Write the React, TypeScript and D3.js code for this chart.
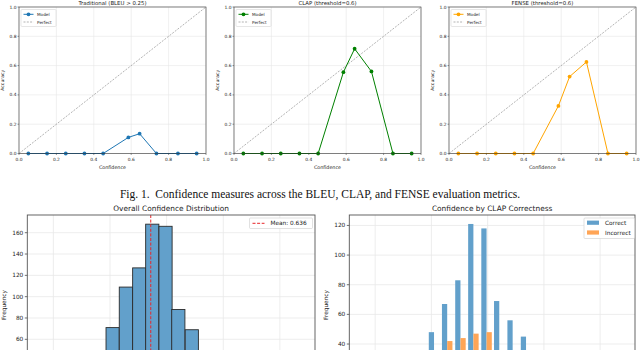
import React, { useEffect, useRef } from 'react';
import * as d3 from 'd3';

// calibration curves (bin mean confidence vs accuracy)
const binConfidence = [0.05, 0.15, 0.25, 0.35, 0.45, 0.585, 0.645, 0.735, 0.85, 0.95];
const bleuAccuracy = [0, 0, 0, 0, 0, 0.11, 0.135, 0, 0, 0];
const clapAccuracy = [0, 0, 0, 0, 0, 0.555, 0.715, 0.56, 0, 0];
const fenseAccuracy = [0, 0, 0, 0, 0, 0.325, 0.525, 0.625, 0, 0];
const calibTitles = ['Traditional (BLEU > 0.25)', 'CLAP (threshold=0.6)', 'FENSE (threshold=0.6)'];
const calibColors = ['#1f77b4', 'green', 'orange'];
const axisTicks = [0, 0.2, 0.4, 0.6, 0.8, 1.0];

// histograms (bin left edges, visible part only)
const histBinStart = [0.5965, 0.6082, 0.62, 0.6315, 0.6432, 0.6545, 0.6664, 0.6783];
const histBinWidth = 0.01165;
const totalCounts = [71, 109, 127, 168, 166, 88, 69, 48];
const correctCounts = [48, 67, 83, 121, 118, 69, 56, 45];
const incorrectCounts = [23, 42, 44, 47, 48, 19, 13, 3];
const meanConfidence = 0.636;
const histXTicks = [0.55, 0.6, 0.65, 0.7, 0.75];
const leftYTicks = [60, 80, 100, 120, 140, 160];
const rightYTicks = [40, 60, 80, 100, 120];

const caption = 'Fig. 1.  Confidence measures across the BLEU, CLAP, and FENSE evaluation metrics.';

const FONT = 'DejaVu Sans, sans-serif';

export default function App() {
  const ref = useRef<SVGSVGElement>(null);

  useEffect(() => {
    const svg = d3.select(ref.current);
    svg.selectAll('*').remove();

    // ---------- top row: three calibration plots ----------
    const lefts = [19, 234, 449];
    const series = [bleuAccuracy, clapAccuracy, fenseAccuracy];
    lefts.forEach((left, i) => {
      const x = d3.scaleLinear().domain([0, 1]).range([left, left + 187]);
      const y = d3.scaleLinear().domain([0, 1]).range([153.5, 7]);
      const g = svg.append('g');

      // grid
      g.selectAll('.vg').data(axisTicks).join('line')
        .attr('x1', d => x(d)).attr('x2', d => x(d)).attr('y1', y(0)).attr('y2', y(1))
        .attr('stroke', '#e6e6e6').attr('stroke-width', 0.6);
      g.selectAll('.hg').data(axisTicks).join('line')
        .attr('x1', x(0)).attr('x2', x(1)).attr('y1', d => y(d)).attr('y2', d => y(d))
        .attr('stroke', '#e6e6e6').attr('stroke-width', 0.6);

      // perfect calibration
      g.append('line')
        .attr('x1', x(0)).attr('y1', y(0)).attr('x2', x(1)).attr('y2', y(1))
        .attr('stroke', '#808080').attr('stroke-width', 0.6).attr('stroke-dasharray', '2,1.3');

      // model curve
      const pts = binConfidence.map((c, k) => [c, series[i][k]] as [number, number]);
      const line = d3.line<[number, number]>().x(d => x(d[0])).y(d => y(d[1]));
      g.append('path').datum(pts)
        .attr('fill', 'none').attr('stroke', calibColors[i]).attr('stroke-width', 1)
        .attr('d', line);
      g.selectAll('.pt').data(pts).join('circle')
        .attr('cx', d => x(d[0])).attr('cy', d => y(d[1])).attr('r', 1.9)
        .attr('fill', calibColors[i]);

      // frame
      g.append('rect')
        .attr('x', x(0)).attr('y', y(1)).attr('width', x(1) - x(0)).attr('height', y(0) - y(1))
        .attr('fill', 'none').attr('stroke', '#333').attr('stroke-width', 0.6);

      // ticks
      axisTicks.forEach(t => {
        g.append('line').attr('x1', x(t)).attr('x2', x(t)).attr('y1', y(0)).attr('y2', y(0) + 1.5)
          .attr('stroke', '#333').attr('stroke-width', 0.5);
        g.append('text').attr('x', x(t)).attr('y', 160.5).attr('text-anchor', 'middle')
          .attr('font-family', FONT).attr('font-size', 4.4).attr('fill', '#222').text(t.toFixed(1));
        g.append('line').attr('x1', x(0) - 1.5).attr('x2', x(0)).attr('y1', y(t)).attr('y2', y(t))
          .attr('stroke', '#333').attr('stroke-width', 0.5);
        g.append('text').attr('x', x(0) - 2.5).attr('y', y(t) + 1.5).attr('text-anchor', 'end')
          .attr('font-family', FONT).attr('font-size', 4.4).attr('fill', '#222').text(t.toFixed(1));
      });

      g.append('text').attr('x', (x(0) + x(1)) / 2).attr('y', 168.5).attr('text-anchor', 'middle')
        .attr('font-family', FONT).attr('font-size', 4.8).attr('fill', '#222').text('Confidence');
      g.append('text').attr('transform', `translate(${left - 15},${y(0.5)}) rotate(-90)`)
        .attr('text-anchor', 'middle').attr('font-family', FONT).attr('font-size', 4.6)
        .attr('fill', '#222').text('Accuracy');
      g.append('text').attr('x', (x(0) + x(1)) / 2).attr('y', 4.6).attr('text-anchor', 'middle')
        .attr('font-family', FONT).attr('font-size', 5.4).attr('fill', '#222').text(calibTitles[i]);

      // legend
      const lg = g.append('g').attr('transform', `translate(${left + 2},9.5)`);
      lg.append('rect').attr('width', 35).attr('height', 17).attr('rx', 1)
        .attr('fill', 'white').attr('fill-opacity', 0.85).attr('stroke', '#ccc').attr('stroke-width', 0.5);
      lg.append('line').attr('x1', 2.5).attr('x2', 12.5).attr('y1', 4.8).attr('y2', 4.8)
        .attr('stroke', calibColors[i]).attr('stroke-width', 1);
      lg.append('circle').attr('cx', 7.5).attr('cy', 4.8).attr('r', 1.9).attr('fill', calibColors[i]);
      lg.append('text').attr('x', 16).attr('y', 6.3).attr('font-family', FONT).attr('font-size', 4.2)
        .attr('fill', '#222').text('Model');
      lg.append('line').attr('x1', 2.5).attr('x2', 12.5).attr('y1', 12.5).attr('y2', 12.5)
        .attr('stroke', '#808080').attr('stroke-width', 0.6).attr('stroke-dasharray', '2,1.3');
      lg.append('text').attr('x', 16).attr('y', 14).attr('font-family', FONT).attr('font-size', 4.2)
        .attr('fill', '#222').text('Perfect');
    });

    // ---------- caption ----------
    svg.append('text').attr('x', 320).attr('y', 197.5).attr('text-anchor', 'middle')
      .attr('font-family', 'Liberation Serif, Times New Roman, serif').attr('font-size', 11.5)
      .attr('fill', '#111').attr('xml:space', 'preserve').text(caption);

    // ---------- bottom row: histograms ----------
    const drawHistFrame = (left: number, right: number, yMax: number, yTicks: number[], title: string) => {
      const x = d3.scaleLinear().domain([0.527, 0.781]).range([left, right]);
      const y = d3.scaleLinear().domain([0, yMax]).range([403.3, 215]);
      const g = svg.append('g');
      g.selectAll('.vg').data(histXTicks).join('line')
        .attr('x1', d => x(d)).attr('x2', d => x(d)).attr('y1', 215).attr('y2', 403)
        .attr('stroke', '#e8e8e8').attr('stroke-width', 0.8);
      g.selectAll('.hg').data(yTicks).join('line')
        .attr('x1', left).attr('x2', right).attr('y1', d => y(d)).attr('y2', d => y(d))
        .attr('stroke', '#e8e8e8').attr('stroke-width', 0.8);
      yTicks.forEach(t => {
        g.append('line').attr('x1', left - 2.5).attr('x2', left).attr('y1', y(t)).attr('y2', y(t))
          .attr('stroke', '#333').attr('stroke-width', 0.7);
        g.append('text').attr('x', left - 4).attr('y', y(t) + 2).attr('text-anchor', 'end')
          .attr('font-family', FONT).attr('font-size', 5.8).attr('fill', '#222').text(t);
      });
      g.append('text').attr('x', (left + right) / 2).attr('y', 211).attr('text-anchor', 'middle')
        .attr('font-family', FONT).attr('font-size', 7.4).attr('fill', '#222').text(title);
      g.append('text').attr('transform', `translate(${left - 21},305) rotate(-90)`)
        .attr('text-anchor', 'middle').attr('font-family', FONT).attr('font-size', 5.8)
        .attr('fill', '#222').text('Frequency');
      return { x, y, g };
    };

    // left: overall distribution
    {
      const { x, y, g } = drawHistFrame(27.3, 315, 176.6, leftYTicks, 'Overall Confidence Distribution');
      g.selectAll('.bar').data(totalCounts).join('rect')
        .attr('x', (_, k) => x(histBinStart[k]))
        .attr('width', x(histBinStart[0] + histBinWidth) - x(histBinStart[0]))
        .attr('y', d => y(d)).attr('height', d => y(0) - y(d))
        .attr('fill', 'rgb(98,160,203)').attr('stroke', '#2b2b2b').attr('stroke-width', 0.9);
      g.append('line').attr('x1', x(meanConfidence)).attr('x2', x(meanConfidence))
        .attr('y1', 215).attr('y2', 403).attr('stroke', '#e8262a').attr('stroke-width', 1)
        .attr('stroke-dasharray', '3,1.6');
      g.append('rect').attr('x', 27.3).attr('y', 215).attr('width', 315 - 27.3).attr('height', 200)
        .attr('fill', 'none').attr('stroke', '#555').attr('stroke-width', 0.9);
      const lg = g.append('g').attr('transform', 'translate(249.5,218)');
      lg.append('rect').attr('width', 63).attr('height', 10.5).attr('rx', 1)
        .attr('fill', 'white').attr('stroke', '#ccc').attr('stroke-width', 0.6);
      lg.append('line').attr('x1', 3).attr('x2', 15).attr('y1', 5.3).attr('y2', 5.3)
        .attr('stroke', '#e8262a').attr('stroke-width', 1).attr('stroke-dasharray', '3,1.6');
      lg.append('text').attr('x', 21).attr('y', 7.3).attr('font-family', FONT).attr('font-size', 5.8)
        .attr('fill', '#222').text(`Mean: ${meanConfidence.toFixed(3)}`);
    }

    // right: by CLAP correctness
    {
      const { x, y, g } = drawHistFrame(349.3, 635, 127.05, rightYTicks, 'Confidence by CLAP Correctness');
      const w = x(histBinStart[0] + histBinWidth) - x(histBinStart[0]);
      g.selectAll('.bc').data(correctCounts).join('rect')
        .attr('x', (_, k) => x(histBinStart[k]) + 0.1 * w).attr('width', 0.4 * w)
        .attr('y', d => y(d)).attr('height', d => y(0) - y(d))
        .attr('fill', 'rgb(98,160,203)');
      g.selectAll('.bi').data(incorrectCounts).join('rect')
        .attr('x', (_, k) => x(histBinStart[k]) + 0.5 * w).attr('width', 0.4 * w)
        .attr('y', d => y(d)).attr('height', d => y(0) - y(d))
        .attr('fill', 'rgb(255,165,86)');
      g.append('rect').attr('x', 349.3).attr('y', 215).attr('width', 635 - 349.3).attr('height', 200)
        .attr('fill', 'none').attr('stroke', '#555').attr('stroke-width', 0.9);
      const lg = g.append('g').attr('transform', 'translate(584,218)');
      lg.append('rect').attr('width', 50.5).attr('height', 20.5).attr('rx', 1)
        .attr('fill', 'white').attr('stroke', '#ccc').attr('stroke-width', 0.6);
      lg.append('rect').attr('x', 3).attr('y', 2.6).attr('width', 12).attr('height', 4.2)
        .attr('fill', 'rgb(98,160,203)');
      lg.append('text').attr('x', 21).attr('y', 6.7).attr('font-family', FONT).attr('font-size', 5.8)
        .attr('fill', '#222').text('Correct');
      lg.append('rect').attr('x', 3).attr('y', 12.4).attr('width', 12).attr('height', 4.2)
        .attr('fill', 'rgb(255,165,86)');
      lg.append('text').attr('x', 21).attr('y', 16.5).attr('font-family', FONT).attr('font-size', 5.8)
        .attr('fill', '#222').text('Incorrect');
    }
  }, []);

  return (
    <svg ref={ref} width={640} height={350}
      style={{ position: 'absolute', left: 0, top: 0, background: 'white' }} />
  );
}
